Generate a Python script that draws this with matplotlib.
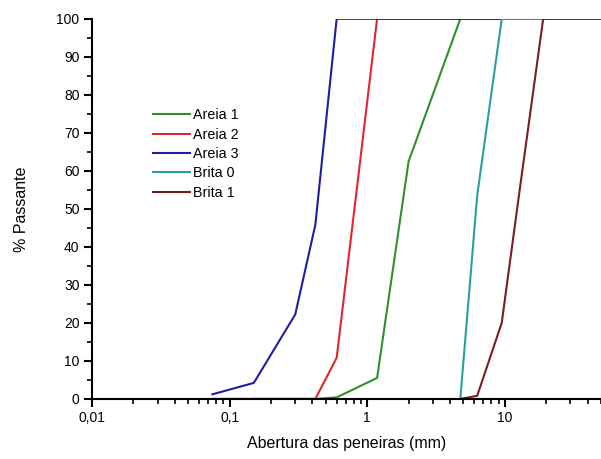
import matplotlib.pyplot as plt
from matplotlib.ticker import FixedLocator, FuncFormatter, MultipleLocator, LogLocator, NullFormatter

plt.rcParams['font.family'] = ['Liberation Sans', 'DejaVu Sans']

# sieve openings (mm) and % passing for each material
areia1_x = [0.15, 0.3, 0.42, 0.6, 1.18, 2.0, 4.75, 9.5, 19.0, 50.0]
areia1_y = [0, 0, 0, 0.4, 5.5, 62.5, 100, 100, 100, 100]

areia2_x = [0.075, 0.15, 0.3, 0.42, 0.6, 1.18, 4.75, 9.5, 19.0, 50.0]
areia2_y = [0, 0, 0, 0, 10.8, 100, 100, 100, 100, 100]

areia3_x = [0.075, 0.15, 0.3, 0.42, 0.6, 1.18, 4.75, 9.5, 19.0, 50.0]
areia3_y = [1.2, 4.2, 22.2, 45.8, 100, 100, 100, 100, 100, 100]

brita0_x = [4.75, 6.3, 9.5, 19.0, 50.0]
brita0_y = [0, 53.5, 100, 100, 100]

brita1_x = [4.75, 6.3, 9.5, 12.5, 19.0, 50.0]
brita1_y = [0, 0.8, 20, 52, 100, 100]

series = [
    ("Areia 1", areia1_x, areia1_y, "#2f8f2f"),
    ("Areia 2", areia2_x, areia2_y, "#e0262c"),
    ("Areia 3", areia3_x, areia3_y, "#1e1ea0"),
    ("Brita 0", brita0_x, brita0_y, "#2a9ea2"),
    ("Brita 1", brita1_x, brita1_y, "#7a1c22"),
]

fig = plt.figure(figsize=(6.01, 4.59), dpi=100)
ax = fig.add_axes([0.153, 0.131, 0.847, 0.828])

for label, x, y, color in series:
    ax.plot(x, y, color=color, lw=1.5, label=label)

ax.set_xscale("log")
ax.set_xlim(0.01, 50)
ax.set_ylim(0, 100)

ax.xaxis.set_major_locator(FixedLocator([0.01, 0.1, 1, 10]))
ax.xaxis.set_minor_locator(LogLocator(base=10, subs=range(2, 10), numticks=20))
ax.xaxis.set_minor_formatter(NullFormatter())
ax.xaxis.set_major_formatter(FuncFormatter(lambda v, p: ("%g" % v).replace(".", ",")))
ax.yaxis.set_major_locator(MultipleLocator(10))
ax.yaxis.set_minor_locator(MultipleLocator(5))

for side in ("top", "right"):
    ax.spines[side].set_visible(False)
for side in ("left", "bottom"):
    ax.spines[side].set_linewidth(1.5)

ax.tick_params(which="major", direction="out", length=6, width=1.5, labelsize=10, pad=3)
ax.tick_params(which="minor", direction="out", length=3.5, width=1.2)

ax.set_xlabel("Abertura das peneiras (mm)", fontsize=11.5, labelpad=8)
ax.set_ylabel("% Passante", fontsize=11.5, labelpad=20)

ax.legend(loc="upper left", bbox_to_anchor=(0.108, 0.78), frameon=False,
          fontsize=10.3, handlelength=2.6, handletextpad=0.25, labelspacing=0.38,
          borderaxespad=0)

fig.savefig("out.png", dpi=100)
